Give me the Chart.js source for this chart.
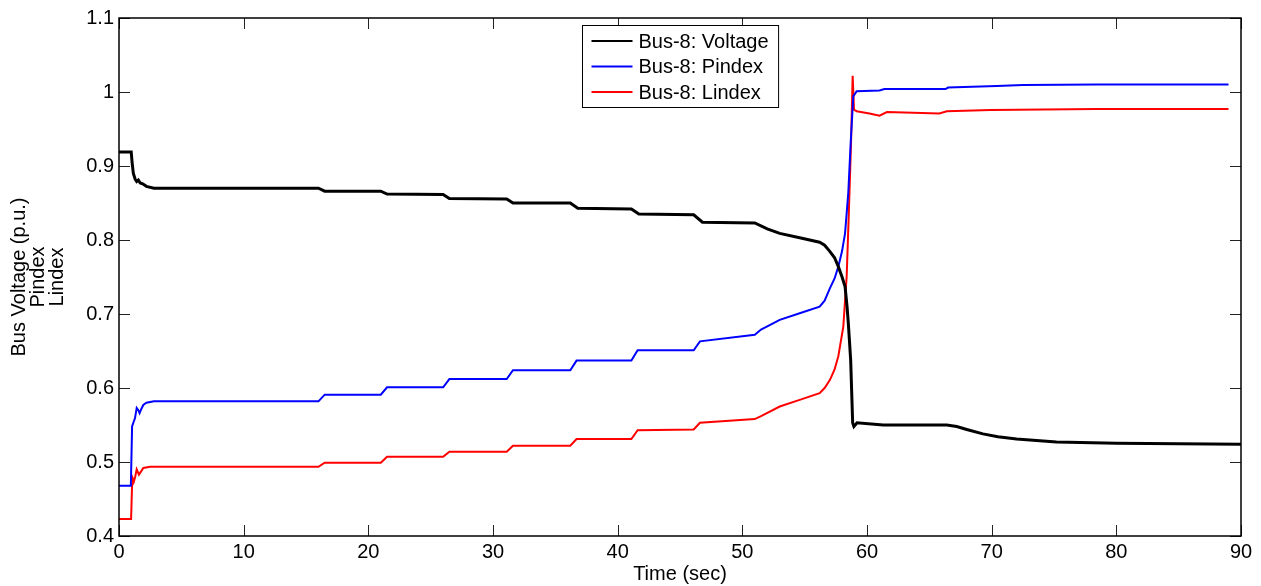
<!DOCTYPE html>
<html>
<head>
  <title>Bus-8</title>
  <script src="https://cdn.jsdelivr.net/npm/chart.js"></script>
  <style>
    body { margin: 0; background: #fff; }
  </style>
</head>
<body>
  <canvas id="bus-chart" width="1261" height="586"></canvas>

  <script>
    // Datos (tiempo en s)
    var voltageTime = [0, 0.98, 1.05, 1.15, 1.3, 1.42, 1.55, 1.7, 1.9, 2.2, 2.8,
      16.0, 16.5, 21.0, 21.5, 26.0, 26.5, 31.1, 31.6, 36.2, 36.8, 41.1, 41.7, 46.1, 46.8,
      51.0, 52.0, 53.0, 54.6, 56.2, 56.6, 57.0, 57.4, 57.7, 58.0, 58.24, 58.4, 58.5, 58.69,
      58.85, 58.95, 59.2, 61.3, 66.4, 67.2, 68.0, 69.3, 70.5, 72.0, 75.2, 80.0, 90.0];
    var voltageValues = [0.919, 0.919, 0.905, 0.89, 0.882, 0.879, 0.881, 0.877, 0.876, 0.8725, 0.870,
      0.870, 0.866, 0.866, 0.862, 0.8615, 0.856, 0.8555, 0.850, 0.850, 0.843, 0.842, 0.835, 0.834, 0.824,
      0.823, 0.815, 0.809, 0.803, 0.797, 0.793, 0.785, 0.776, 0.764, 0.750, 0.737, 0.710, 0.688, 0.638,
      0.553, 0.548, 0.553, 0.550, 0.550, 0.548, 0.544, 0.538, 0.534, 0.531, 0.527, 0.5255, 0.524];

    var pindexTime = [0, 0.95, 1.05, 1.15, 1.28, 1.42, 1.55, 1.65, 1.8, 1.95, 2.2, 2.8,
      16.0, 16.5, 21.0, 21.5, 26.0, 26.5, 31.1, 31.6, 36.2, 36.7, 41.1, 41.6, 46.1, 46.6,
      51.0, 51.5, 53.0, 54.6, 56.2, 56.6, 57.03, 57.4, 57.7, 58.0, 58.24, 58.5, 58.69, 58.9,
      59.17, 61.0, 61.4, 66.3, 66.5, 70.4, 72.5, 78.4, 89.0];
    var pindexValues = [0.468, 0.468, 0.548, 0.553, 0.559, 0.573, 0.570, 0.566, 0.572, 0.577, 0.580, 0.582,
      0.582, 0.591, 0.591, 0.601, 0.601, 0.612, 0.612, 0.624, 0.624, 0.637, 0.637, 0.651, 0.651, 0.663,
      0.672, 0.679, 0.692, 0.701, 0.710, 0.718, 0.735, 0.748, 0.764, 0.785, 0.809, 0.864, 0.931, 0.994,
      1.001, 1.002, 1.004, 1.004, 1.006, 1.008, 1.0095, 1.010, 1.010];

    var lindexTime = [0, 0.97, 1.05, 1.1, 1.2, 1.3, 1.42, 1.6, 1.8, 1.95, 2.5,
      16.0, 16.5, 21.0, 21.5, 26.0, 26.5, 31.1, 31.6, 36.2, 36.7, 41.1, 41.6, 46.1, 46.6,
      51.0, 51.5, 53.0, 54.6, 56.2, 56.6, 57.03, 57.4, 57.7, 58.1, 58.37, 58.55, 58.72, 58.85,
      58.96, 59.17, 60.2, 61.0, 61.6, 65.8, 66.4, 69.9, 78.4, 89.0];
    var lindexValues = [0.423, 0.423, 0.470, 0.478, 0.474, 0.480, 0.490, 0.483, 0.488, 0.492, 0.4935,
      0.4935, 0.499, 0.499, 0.507, 0.507, 0.514, 0.514, 0.522, 0.522, 0.531, 0.531, 0.543, 0.544, 0.553,
      0.558, 0.562, 0.575, 0.584, 0.593, 0.600, 0.611, 0.625, 0.643, 0.683, 0.751, 0.841, 0.931, 1.022,
      0.976, 0.974, 0.971, 0.968, 0.973, 0.971, 0.974, 0.9757, 0.977, 0.977];

    var seriesLabels = ['Bus-8: Voltage', 'Bus-8: Pindex', 'Bus-8: Lindex'];
    var xTicks = [0, 10, 20, 30, 40, 50, 60, 70, 80, 90];
    var yTicks = [0.4, 0.5, 0.6, 0.7, 0.8, 0.9, 1.0, 1.1];
    var xTitle = 'Time (sec)';
    var yTitle = ['Bus Voltage (p.u.)', 'Pindex', 'Lindex'];

    var FONT = "'Liberation Sans', Arial, sans-serif";

    function toPoints(t, v) {
      return t.map(function (x, i) { return { x: x, y: v[i] }; });
    }

    // caja y marcas hacia dentro, como en MATLAB
    var boxPlugin = {
      id: 'box',
      afterDatasetsDraw: function (chart) {
        var c = chart.ctx, a = chart.chartArea;
        var xs = chart.scales.x, ys = chart.scales.y;
        var len = 11;
        c.save();
        c.strokeStyle = '#222';
        c.lineWidth = 1;
        c.beginPath();
        xTicks.forEach(function (t) {
          var px = Math.round(xs.getPixelForValue(t)) + 0.5;
          c.moveTo(px, a.bottom); c.lineTo(px, a.bottom - len);
          c.moveTo(px, a.top); c.lineTo(px, a.top + len);
        });
        yTicks.forEach(function (t) {
          var py = Math.round(ys.getPixelForValue(t)) + 0.5;
          c.moveTo(a.left, py); c.lineTo(a.left + len, py);
          c.moveTo(a.right, py); c.lineTo(a.right - len, py);
        });
        c.stroke();
        c.strokeStyle = '#000';
        c.lineWidth = 1.5;
        c.strokeRect(a.left, a.top, a.right - a.left, a.bottom - a.top);
        c.restore();
      }
    };

    // leyenda en caja arriba al centro
    var boxLegend = {
      id: 'boxLegend',
      afterDraw: function (chart) {
        var c = chart.ctx, a = chart.chartArea;
        c.save();
        c.font = '20px ' + FONT;
        var tw = 0;
        chart.data.datasets.forEach(function (d) { tw = Math.max(tw, c.measureText(d.label).width); });
        var w = 9 + 41 + 6 + tw + 10;
        var h = 82;
        var x0 = Math.round((a.left + a.right) / 2 - w / 2) + 0.5;
        var y0 = a.top + 7.5;
        c.fillStyle = '#fff';
        c.fillRect(x0, y0, w, h);
        c.strokeStyle = '#000';
        c.lineWidth = 1;
        c.strokeRect(x0, y0, w, h);
        chart.data.datasets.forEach(function (d, i) {
          var yy = y0 + 15.5 + i * 25.5;
          c.strokeStyle = d.borderColor;
          c.lineWidth = 2;
          c.beginPath();
          c.moveTo(x0 + 9, yy); c.lineTo(x0 + 50, yy);
          c.stroke();
          c.fillStyle = '#000';
          c.textBaseline = 'middle';
          c.textAlign = 'left';
          c.fillText(d.label, x0 + 56, yy + 1);
        });
        c.restore();
      }
    };

    var config = {
      type: 'line',
      data: {
        datasets: [{
          label: seriesLabels[0],
          data: toPoints(voltageTime, voltageValues),
          borderColor: '#000000',
          borderWidth: 3
        }, {
          label: seriesLabels[1],
          data: toPoints(pindexTime, pindexValues),
          borderColor: '#0000ff',
          borderWidth: 2
        }, {
          label: seriesLabels[2],
          data: toPoints(lindexTime, lindexValues),
          borderColor: '#ff0000',
          borderWidth: 2
        }]
      },
      options: {
        responsive: false,
        animation: false,
        layout: { padding: { top: 18, right: 20, left: 0, bottom: 0 } },
        elements: { point: { radius: 0 }, line: { tension: 0 } },
        plugins: { legend: { display: false }, tooltip: { enabled: false } },
        scales: {
          x: {
            type: 'linear', min: 0, max: 90,
            afterBuildTicks: function (s) { s.ticks = xTicks.map(function (v) { return { value: v }; }); },
            afterFit: function (s) { s.height = 50; },
            grid: { display: false, drawTicks: false },
            border: { display: false },
            ticks: { color: '#000', padding: 4, maxRotation: 0, font: { family: FONT, size: 20 },
              callback: function (v) { return String(v); } },
            title: { display: true, text: xTitle, color: '#000', padding: { top: 0, bottom: 0 },
              font: { family: FONT, size: 20, lineHeight: 1.2 } }
          },
          y: {
            type: 'linear', min: 0.4, max: 1.1,
            afterBuildTicks: function (s) { s.ticks = yTicks.map(function (v) { return { value: v }; }); },
            afterFit: function (s) { s.width = 119; },
            grid: { display: false, drawTicks: false },
            border: { display: false },
            ticks: { color: '#000', padding: 5, font: { family: FONT, size: 20 },
              callback: function (v) { return String(Math.round(v * 10) / 10); } },
            title: { display: true, text: yTitle, color: '#000', padding: { top: 10, bottom: 0 },
              font: { family: FONT, size: 20, lineHeight: 0.95 } }
          }
        }
      },
      plugins: [boxPlugin, boxLegend]
    };

    var ctx = document.getElementById('bus-chart').getContext('2d');
    var chart = new Chart(ctx, config);
  </script>
</body>
</html>
